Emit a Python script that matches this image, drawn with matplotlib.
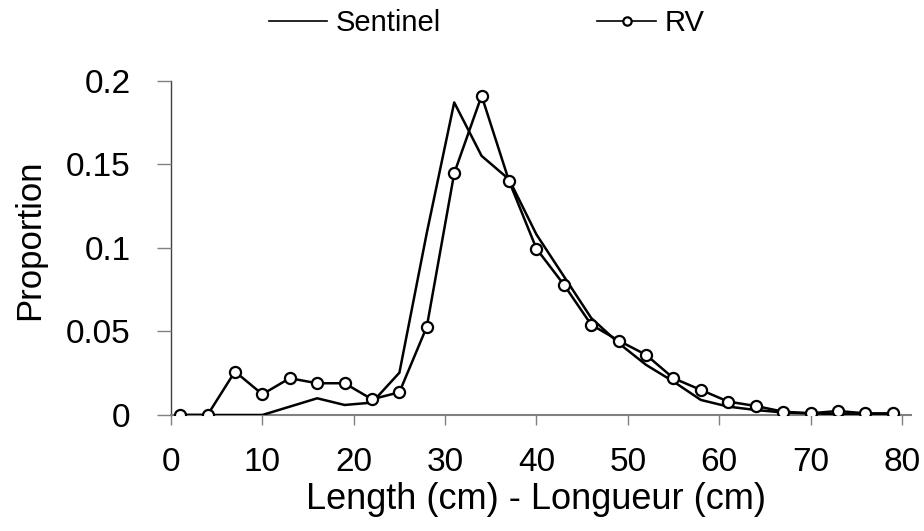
import matplotlib
matplotlib.use("Agg")
import matplotlib.pyplot as plt

plt.rcParams['font.family'] = ['Liberation Sans', 'DejaVu Sans']

length = [1, 4, 7, 10, 13, 16, 19, 22, 25, 28, 31, 34, 37, 40, 43, 46, 49, 52,
          55, 58, 61, 64, 67, 70, 73, 76, 79]
sentinel = [0, 0, 0, 0, 0.005, 0.010, 0.006, 0.0074, 0.0253, 0.109, 0.187,
            0.155, 0.141, 0.108, 0.083, 0.058, 0.043, 0.030, 0.020, 0.009,
            0.005, 0.003, 0.0015, 0.001, 0.0005, 0.0003, 0.0002]
rv = [0, 0, 0.026, 0.0124, 0.022, 0.019, 0.019, 0.0094, 0.0136, 0.0528,
      0.1446, 0.191, 0.140, 0.0995, 0.078, 0.054, 0.0445, 0.036, 0.022, 0.015,
      0.008, 0.0054, 0.002, 0.001, 0.0024, 0.001, 0.001]
xticks = [0, 10, 20, 30, 40, 50, 60, 70, 80]
yticks = [0, 0.05, 0.1, 0.15, 0.2]
ytick_labels = ["0", "0.05", "0.1", "0.15", "0.2"]

W, H = 924, 531
fig = plt.figure(figsize=(W / 100, H / 100), dpi=100)
ax = fig.add_axes([171 / W, 1 - 415 / H, 740 / W, 334.3 / H])

l1, = ax.plot(length, sentinel, color='black', lw=1.8, label='Sentinel', zorder=3)
l2, = ax.plot(length, rv, color='black', lw=1.8, marker='o', ms=8,
              mfc='white', mec='black', mew=1.6, label='RV', zorder=4)

ax.set_xlim(0, 81)
ax.set_ylim(0, 0.2)
ax.set_xticks(xticks)
ax.set_yticks(yticks)
ax.set_yticklabels(ytick_labels)
for s in ['top', 'right']:
    ax.spines[s].set_visible(False)
ax.spines['left'].set_color('#404040')
ax.spines['bottom'].set_color('#808080')
ax.spines['left'].set_linewidth(1.0)
ax.spines['bottom'].set_linewidth(1.5)
ax.spines['left'].set_zorder(1)
ax.tick_params(axis='x', direction='out', length=7, width=1, color='#808080',
               labelsize=24, pad=16)
ax.tick_params(axis='y', direction='out', length=10, width=1, color='#808080',
               labelsize=24, pad=19)
ax.set_xlabel('Length (cm) - Longueur (cm)', fontsize=26, labelpad=3)
ax.set_ylabel('Proportion', fontsize=25, labelpad=14)
ax.yaxis.label.set_y(0.524)
ax.xaxis.label.set_x(0.493)

leg = fig.legend(handles=[l1, l2], loc='center left',
                 bbox_to_anchor=(269 / W, 1 - 23 / H), ncol=2, frameon=False,
                 fontsize=21, handlelength=2.0, handletextpad=0.3,
                 columnspacing=5.35, borderpad=0, borderaxespad=0,
                 markerscale=0.75)
for ln in leg.get_lines():
    ln.set_linewidth(1.2)

fig.savefig('out.png', dpi=100)
